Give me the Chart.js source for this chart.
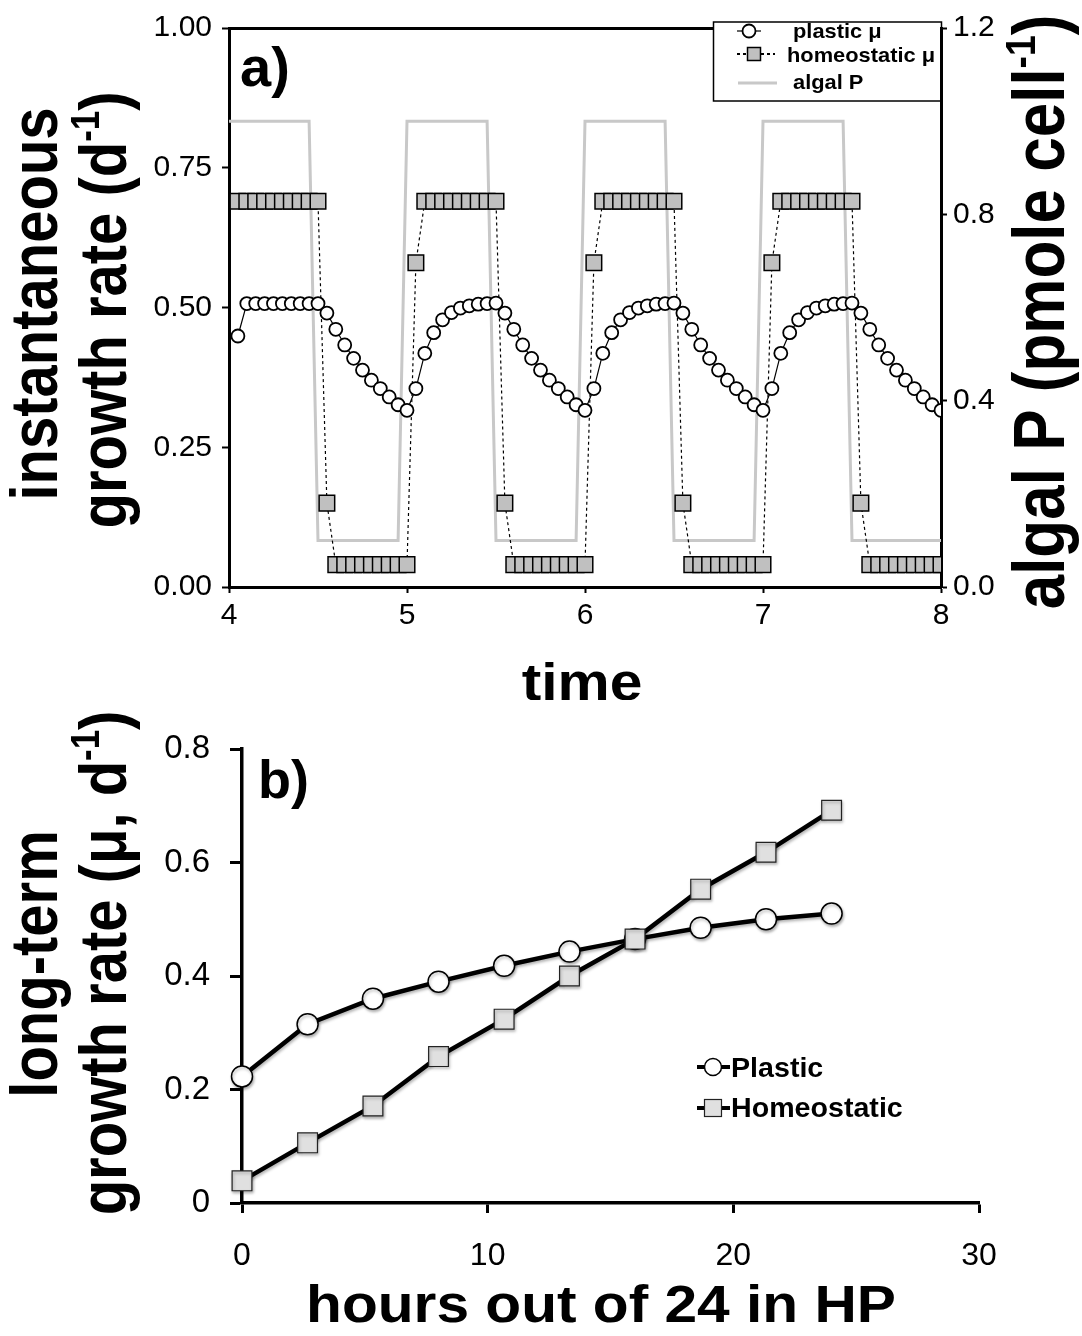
<!DOCTYPE html>
<html>
<head>
<meta charset="utf-8">
<script src="https://cdn.jsdelivr.net/npm/chart.js"></script>
<style>
  html, body { margin: 0; padding: 0; background: #fff; }
  body { width: 1082px; height: 1336px; position: relative; overflow: hidden; }
  canvas { position: absolute; left: 0; }
  #chartA { top: 0; }
  #chartB { top: 700px; }
</style>
</head>
<body>
<canvas id="chartA" width="1082" height="700"></canvas>
<canvas id="chartB" width="1082" height="636"></canvas>
<script>
// ---- panel a) data: time in days, one row per half day ----
const times = [
  4.00, 4.05, 4.10, 4.15, 4.20, 4.25, 4.30, 4.35, 4.40, 4.45,
  4.50, 4.55, 4.60, 4.65, 4.70, 4.75, 4.80, 4.85, 4.90, 4.95,
  5.00, 5.05, 5.10, 5.15, 5.20, 5.25, 5.30, 5.35, 5.40, 5.45,
  5.50, 5.55, 5.60, 5.65, 5.70, 5.75, 5.80, 5.85, 5.90, 5.95,
  6.00, 6.05, 6.10, 6.15, 6.20, 6.25, 6.30, 6.35, 6.40, 6.45,
  6.50, 6.55, 6.60, 6.65, 6.70, 6.75, 6.80, 6.85, 6.90, 6.95,
  7.00, 7.05, 7.10, 7.15, 7.20, 7.25, 7.30, 7.35, 7.40, 7.45,
  7.50, 7.55, 7.60, 7.65, 7.70, 7.75, 7.80, 7.85, 7.90, 7.95,
  8.00
];
const plasticMu = [
  null, 0.449, 0.507, 0.507, 0.507, 0.507, 0.507, 0.507, 0.507, 0.507,
  0.507, 0.490, 0.461, 0.433, 0.409, 0.388, 0.370, 0.355, 0.340, 0.326,
  0.316, 0.355, 0.418, 0.455, 0.478, 0.491, 0.499, 0.503, 0.506, 0.507,
  0.508, 0.490, 0.461, 0.433, 0.409, 0.388, 0.370, 0.355, 0.340, 0.326,
  0.316, 0.355, 0.418, 0.455, 0.478, 0.491, 0.499, 0.503, 0.506, 0.507,
  0.508, 0.490, 0.461, 0.433, 0.409, 0.388, 0.370, 0.355, 0.340, 0.326,
  0.316, 0.355, 0.418, 0.455, 0.478, 0.491, 0.499, 0.503, 0.506, 0.507,
  0.508, 0.490, 0.461, 0.433, 0.409, 0.388, 0.370, 0.355, 0.340, 0.326,
  0.316
];
const homeoMu = [
  null, 0.69, 0.69, 0.69, 0.69, 0.69, 0.69, 0.69, 0.69, 0.69,
  0.69, 0.15, 0.04, 0.04, 0.04, 0.04, 0.04, 0.04, 0.04, 0.04,
  0.04, 0.58, 0.69, 0.69, 0.69, 0.69, 0.69, 0.69, 0.69, 0.69,
  0.69, 0.15, 0.04, 0.04, 0.04, 0.04, 0.04, 0.04, 0.04, 0.04,
  0.04, 0.58, 0.69, 0.69, 0.69, 0.69, 0.69, 0.69, 0.69, 0.69,
  0.69, 0.15, 0.04, 0.04, 0.04, 0.04, 0.04, 0.04, 0.04, 0.04,
  0.04, 0.58, 0.69, 0.69, 0.69, 0.69, 0.69, 0.69, 0.69, 0.69,
  0.69, 0.15, 0.04, 0.04, 0.04, 0.04, 0.04, 0.04, 0.04, 0.04,
  0.04
];
const algalP = [
  1.0, 1.0, 1.0, 1.0, 1.0, 1.0, 1.0, 1.0, 1.0, 1.0,
  0.1, 0.1, 0.1, 0.1, 0.1, 0.1, 0.1, 0.1, 0.1, 0.1,
  1.0, 1.0, 1.0, 1.0, 1.0, 1.0, 1.0, 1.0, 1.0, 1.0,
  0.1, 0.1, 0.1, 0.1, 0.1, 0.1, 0.1, 0.1, 0.1, 0.1,
  1.0, 1.0, 1.0, 1.0, 1.0, 1.0, 1.0, 1.0, 1.0, 1.0,
  0.1, 0.1, 0.1, 0.1, 0.1, 0.1, 0.1, 0.1, 0.1, 0.1,
  1.0, 1.0, 1.0, 1.0, 1.0, 1.0, 1.0, 1.0, 1.0, 1.0,
  0.1, 0.1, 0.1, 0.1, 0.1, 0.1, 0.1, 0.1, 0.1, 0.1,
  0.1
];

// ---- panel b) data ----
const hoursHP = [0, 2.67, 5.33, 8, 10.67, 13.33, 16, 18.67, 21.33, 24];
const plasticLong = [0.223, 0.315, 0.360, 0.390, 0.418, 0.443, 0.465, 0.485, 0.500, 0.510];
const homeoLong = [0.039, 0.106, 0.171, 0.258, 0.324, 0.400, 0.465, 0.553, 0.618, 0.692];

const FONT = '"Liberation Sans", Arial, Helvetica, sans-serif';
const STRETCH = 1.15;

const pairs = (xs, ys) => xs.map((x, i) => ({ x: x, y: ys[i] }));

// draws text made of parts, some of them superscript; stretched a bit sideways like the original
function richText(ctx, parts, x, y, size, opt) {
  const o = Object.assign({ rot: 0, align: 'center', stretch: STRETCH, weight: 'bold' }, opt);
  ctx.save();
  ctx.translate(x, y);
  ctx.scale(o.stretch, 1);
  ctx.rotate(o.rot);
  ctx.fillStyle = '#000';
  ctx.textBaseline = 'alphabetic';
  ctx.textAlign = 'left';
  let w = 0;
  parts.forEach((p) => {
    ctx.font = `${o.weight} ${p.sup ? size * 0.6 : size}px ${FONT}`;
    w += ctx.measureText(p.t).width;
  });
  let cx = o.align === 'center' ? -w / 2 : 0;
  parts.forEach((p) => {
    ctx.font = `${o.weight} ${p.sup ? size * 0.6 : size}px ${FONT}`;
    ctx.fillText(p.t, cx, p.sup ? -size * 0.4 : 0);
    cx += ctx.measureText(p.t).width;
  });
  ctx.restore();
}

function circleMark(ctx, x, y, r, lw, fill) {
  ctx.beginPath();
  ctx.arc(x, y, r, 0, Math.PI * 2);
  ctx.fillStyle = fill;
  ctx.fill();
  ctx.lineWidth = lw;
  ctx.strokeStyle = '#000';
  ctx.stroke();
}

function squareMark(ctx, x, y, side, lw, fill, stroke) {
  ctx.fillStyle = fill;
  ctx.fillRect(x - side / 2, y - side / 2, side, side);
  ctx.lineWidth = lw;
  ctx.strokeStyle = stroke;
  ctx.strokeRect(x - side / 2, y - side / 2, side, side);
}

const tickGrid = (len, w) => ({
  display: true, drawOnChartArea: false, drawTicks: true,
  tickLength: len, tickWidth: w, tickColor: '#000'
});

// ---------- panel a ----------
const textA = {
  id: 'textA',
  afterDraw(chart) {
    const ctx = chart.ctx;
    richText(ctx, [{ t: 'a)' }], 240, 86, 56, { align: 'left', stretch: 1 });
    richText(ctx, [{ t: 'instantaneous' }], 57, 304, 58, { rot: -Math.PI / 2 });
    richText(ctx, [{ t: 'growth rate (d' }, { t: '-1', sup: true }, { t: ')' }], 126, 310, 58, { rot: -Math.PI / 2 });
    richText(ctx, [{ t: 'algal P (pmole cell' }, { t: '-1', sup: true }, { t: ')' }], 1064, 312, 62, { rot: -Math.PI / 2 });
    richText(ctx, [{ t: 'time' }], 582, 700, 51);

    // legend box
    ctx.save();
    ctx.fillStyle = '#fff';
    ctx.fillRect(713, 23, 227, 78);
    ctx.strokeStyle = '#000';
    ctx.lineWidth = 1.5;
    ctx.strokeRect(713.5, 22, 228, 79);
    ctx.lineWidth = 1.2;
    ctx.beginPath(); ctx.moveTo(737, 31); ctx.lineTo(761, 31); ctx.stroke();
    circleMark(ctx, 749, 31, 6.5, 1.8, '#fff');
    ctx.setLineDash([3, 3]);
    ctx.beginPath(); ctx.moveTo(737, 54); ctx.lineTo(775, 54); ctx.stroke();
    ctx.setLineDash([]);
    squareMark(ctx, 754, 54, 13, 1.5, '#c0c0c0', '#000');
    ctx.strokeStyle = '#c8c8c8';
    ctx.lineWidth = 3;
    ctx.beginPath(); ctx.moveTo(738, 83); ctx.lineTo(777, 83); ctx.stroke();
    ctx.restore();
    richText(ctx, [{ t: 'plastic μ' }], 793, 38, 21, { align: 'left', stretch: 1.04 });
    richText(ctx, [{ t: 'homeostatic μ' }], 787, 62, 21, { align: 'left', stretch: 1.04 });
    richText(ctx, [{ t: 'algal P' }], 793, 89, 21, { align: 'left', stretch: 1.04 });
  }
};

new Chart(document.getElementById('chartA'), {
  type: 'line',
  data: {
    datasets: [
      {
        label: 'plastic μ',
        data: pairs(times, plasticMu),
        yAxisID: 'y',
        borderColor: '#000',
        borderWidth: 1.2,
        pointRadius: 6.5,
        pointBackgroundColor: '#fff',
        pointBorderColor: '#000',
        pointBorderWidth: 1.8,
        order: 0
      },
      {
        label: 'homeostatic μ',
        data: pairs(times, homeoMu),
        yAxisID: 'y',
        borderColor: '#000',
        borderWidth: 1.2,
        borderDash: [3, 3],
        pointStyle: 'rect',
        pointRadius: 11,
        pointBackgroundColor: '#c0c0c0',
        pointBorderColor: '#000',
        pointBorderWidth: 1.5,
        order: 1
      },
      {
        label: 'algal P',
        data: pairs(times, algalP),
        yAxisID: 'yR',
        borderColor: '#c8c8c8',
        borderWidth: 3,
        pointRadius: 0,
        order: 2
      }
    ]
  },
  options: {
    responsive: false,
    animation: false,
    devicePixelRatio: 1,
    layout: { padding: 0 },
    elements: { line: { tension: 0 } },
    plugins: { legend: { display: false }, tooltip: { enabled: false } },
    scales: {
      x: {
        type: 'linear', position: 'bottom', min: 4, max: 8,
        ticks: { stepSize: 1, color: '#000', padding: 5, font: { family: FONT, size: 30 } },
        grid: tickGrid(6, 2),
        border: { display: true, color: '#000', width: 3 },
        afterFit: (s) => { s.height = 113; }
      },
      xTop: {
        type: 'linear', position: 'top', min: 4, max: 8,
        ticks: { display: false },
        grid: { display: false },
        border: { display: true, color: '#000', width: 3 },
        afterFit: (s) => { s.height = 22; }
      },
      y: {
        position: 'left', min: 0, max: 1,
        ticks: { stepSize: 0.25, color: '#000', padding: 10, font: { family: FONT, size: 30 },
          callback: (v) => v.toFixed(2) },
        grid: tickGrid(7, 2),
        border: { display: true, color: '#000', width: 3 },
        afterFit: (s) => { s.width = 229; }
      },
      yR: {
        position: 'right', min: 0, max: 1.2,
        ticks: { stepSize: 0.4, color: '#000', padding: 6, font: { family: FONT, size: 30 },
          callback: (v) => v.toFixed(1) },
        grid: tickGrid(6, 2),
        border: { display: true, color: '#000', width: 3 },
        afterFit: (s) => { s.width = 141; }
      }
    }
  },
  plugins: [textA]
});

// ---------- panel b ----------
const shadowB = {
  id: 'shadowB',
  beforeDatasetsDraw(chart) {
    const ctx = chart.ctx;
    ctx.save();
    ctx.shadowColor = 'rgba(0,0,0,0.3)';
    ctx.shadowBlur = 3;
    ctx.shadowOffsetX = 1;
    ctx.shadowOffsetY = 2;
  },
  afterDatasetsDraw(chart) {
    chart.ctx.restore();
  }
};

const textB = {
  id: 'textB',
  afterDraw(chart) {
    const ctx = chart.ctx;
    richText(ctx, [{ t: 'b)' }], 258, 98, 54, { align: 'left', stretch: 1 });
    richText(ctx, [{ t: 'long-term' }], 57, 264, 58, { rot: -Math.PI / 2 });
    richText(ctx, [{ t: 'growth rate (μ, d' }, { t: '-1', sup: true }, { t: ')' }], 126, 263, 58, { rot: -Math.PI / 2 });
    richText(ctx, [{ t: 'hours out of 24 in HP' }], 601, 622, 51);

    // legend
    ctx.save();
    ctx.strokeStyle = '#000';
    ctx.lineWidth = 4;
    ctx.beginPath(); ctx.moveTo(697, 367); ctx.lineTo(730, 367); ctx.stroke();
    ctx.beginPath(); ctx.moveTo(697, 408); ctx.lineTo(730, 408); ctx.stroke();
    circleMark(ctx, 713, 367, 8.5, 1.5, '#fff');
    squareMark(ctx, 713, 408, 17, 1.2, '#e0e0e0', '#222');
    ctx.restore();
    richText(ctx, [{ t: 'Plastic' }], 731, 377, 27, { align: 'left', stretch: 1.06 });
    richText(ctx, [{ t: 'Homeostatic' }], 731, 417, 27, { align: 'left', stretch: 1.06 });
  }
};

new Chart(document.getElementById('chartB'), {
  type: 'line',
  data: {
    datasets: [
      {
        label: 'Homeostatic',
        data: pairs(hoursHP, homeoLong),
        borderColor: '#000',
        borderWidth: 4.5,
        pointStyle: 'rect',
        pointRadius: 14,
        pointBackgroundColor: '#e0e0e0',
        pointBorderColor: '#222',
        pointBorderWidth: 1.2,
        clip: false,
        order: 0
      },
      {
        label: 'Plastic',
        data: pairs(hoursHP, plasticLong),
        borderColor: '#000',
        borderWidth: 4.5,
        pointRadius: 10.5,
        pointBackgroundColor: '#fff',
        pointBorderColor: '#000',
        pointBorderWidth: 1.5,
        clip: false,
        order: 1
      }
    ]
  },
  options: {
    responsive: false,
    animation: false,
    devicePixelRatio: 1,
    layout: { padding: { top: 49, right: 103, left: 0, bottom: 0 } },
    elements: { line: { tension: 0 } },
    plugins: { legend: { display: false }, tooltip: { enabled: false } },
    scales: {
      x: {
        type: 'linear', position: 'bottom', min: 0, max: 30,
        ticks: { stepSize: 10, color: '#000', padding: 24, font: { family: FONT, size: 32 } },
        grid: tickGrid(10, 3),
        border: { display: true, color: '#000', width: 3.5 },
        afterFit: (s) => { s.height = 133; }
      },
      y: {
        position: 'left', min: 0, max: 0.8,
        ticks: { stepSize: 0.2, color: '#000', padding: 20, font: { family: FONT, size: 33 },
          callback: (v) => (v === 0 ? '0' : v.toFixed(1)) },
        grid: tickGrid(12, 3),
        border: { display: true, color: '#000', width: 3.5 },
        afterFit: (s) => { s.width = 242; }
      }
    }
  },
  plugins: [shadowB, textB]
});
</script>
</body>
</html>
